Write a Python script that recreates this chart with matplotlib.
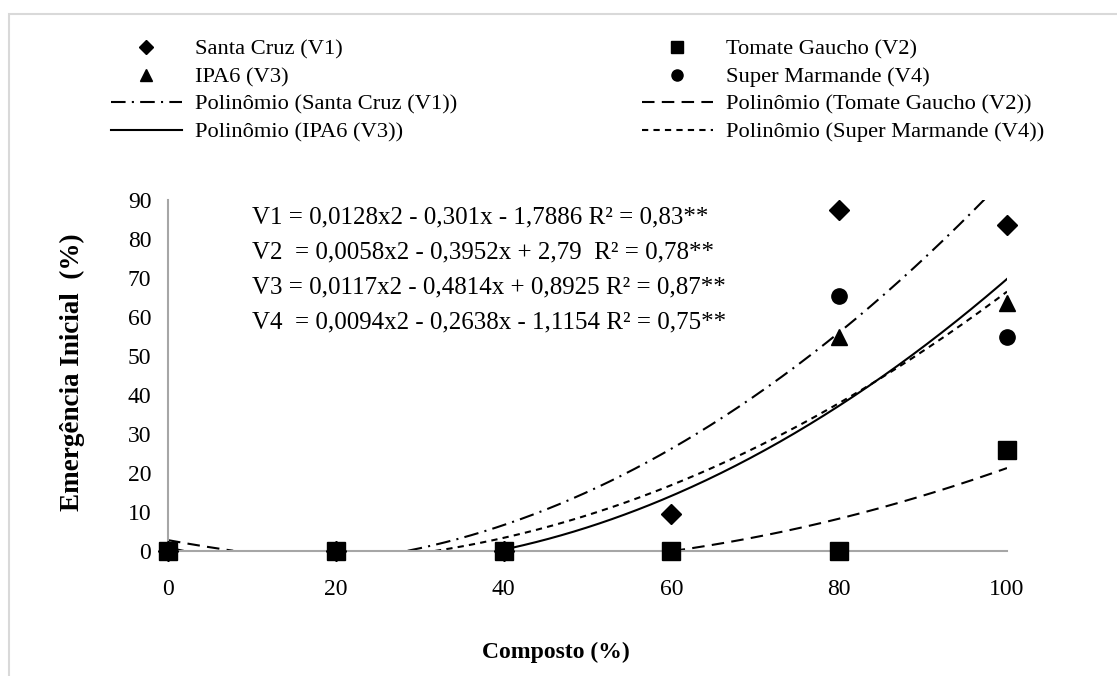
import numpy as np
import matplotlib
matplotlib.use("Agg")
import matplotlib.pyplot as plt
from matplotlib.lines import Line2D
from matplotlib.patches import Rectangle

plt.rcParams['font.family'] = ['Liberation Serif', 'DejaVu Serif']

composto = [0, 20, 40, 60, 80, 100]
v1 = [0, 0, 0, 9.5, 87.5, 83.5]
v2 = [0, 0, 0, 0, 0, 26]
v3 = [0, 0, 0, 0, 55, 63.5]
v4 = [0, 0, 0, 0, 65.5, 55]

names = ["Santa Cruz (V1)", "Tomate Gaucho (V2)", "IPA6 (V3)", "Super Marmande (V4)"]
# trendline coefficients as printed on the chart (a, b, c)
coefs = {
    "V1": [0.0128, -0.301, -1.7886],
    "V2": [0.0058, -0.3952, 2.79],
    "V3": [0.0117, -0.4814, 0.8925],
    "V4": [0.0094, -0.2638, -1.1154],
}
equations = [
    "V1 = 0,0128x2 - 0,301x - 1,7886 R² = 0,83**",
    "V2  = 0,0058x2 - 0,3952x + 2,79  R² = 0,78**",
    "V3 = 0,0117x2 - 0,4814x + 0,8925 R² = 0,87**",
    "V4  = 0,0094x2 - 0,2638x - 1,1154 R² = 0,75**",
]

fig = plt.figure(figsize=(11.17, 6.76), dpi=100)
fig.patches.append(Rectangle((9 / 1117, -0.1), 1.2, 1 - 14 / 676 + 0.1,
                             transform=fig.transFigure, fill=False,
                             edgecolor='#d9d9d9', linewidth=1.5))
ax = fig.add_axes([0.1504, 0.1849, 0.7511, 0.5192])

styles = {
    "V1": dict(linestyle=(0, (7, 3, 1, 3)), color='black', lw=1.5),
    "V2": dict(linestyle=(0, (6, 3.5)), color='black', lw=1.5),
    "V3": dict(linestyle='-', color='black', lw=1.5),
    "V4": dict(linestyle=(0, (3, 2.5)), color='black', lw=1.5),
}
xs = np.linspace(0, 100, 400)
for k, c in coefs.items():
    ys = np.polyval(c, xs)
    ys[ys < 0] = np.nan
    ax.plot(xs, ys, **styles[k], zorder=2)

ax.plot(composto, v1, 'D', color='black', ms=10, ls='none', zorder=3, clip_on=False)
ax.plot(composto, v3, '^', color='black', ms=12, ls='none', zorder=3, clip_on=False)
ax.plot(composto, v4, 'o', color='black', ms=11, ls='none', zorder=3, clip_on=False)
ax.plot(composto, v2, 's', color='black', ms=13, ls='none', zorder=4, clip_on=False)

ax.set_xlim(0, 100)
ax.set_ylim(0, 90)
ax.set_xticks(composto)
ax.set_yticks(range(0, 91, 10))
ax.tick_params(length=0, labelsize=17)
ax.tick_params(axis='x', pad=20)
ax.tick_params(axis='y', pad=12)
for s in ['top', 'right']:
    ax.spines[s].set_visible(False)
for s in ['left', 'bottom']:
    ax.spines[s].set_color('#a6a6a6')
    ax.spines[s].set_linewidth(1.5)

ax.set_xlabel("Composto (%)", fontsize=17, fontweight='bold')
ax.xaxis.set_label_coords((556 - 168) / 839, -(642 - 551) / 351)
ax.set_ylabel("Emergência Inicial  (%)", fontsize=19.5, fontweight='bold')
ax.yaxis.set_label_coords(-(168 - 85) / 839, 0.51)

for i, eq in enumerate(equations):
    ax.text(0.1, 0.95 - i * 0.1, eq, transform=ax.transAxes, fontsize=18,
            va='center', ha='left')

h = [
    Line2D([], [], marker='D', color='black', ls='none', ms=7),
    Line2D([], [], marker='^', color='black', ls='none', ms=8),
    Line2D([], [], **styles["V1"]),
    Line2D([], [], **styles["V3"]),
    Line2D([], [], marker='s', color='black', ls='none', ms=8),
    Line2D([], [], marker='o', color='black', ls='none', ms=8),
    Line2D([], [], **styles["V2"]),
    Line2D([], [], **styles["V4"]),
]
labels = [names[0], names[2], "Polinômio (" + names[0] + ")", "Polinômio (" + names[2] + ")",
          names[1], names[3], "Polinômio (" + names[1] + ")", "Polinômio (" + names[3] + ")"]
fig.legend(h, labels, ncol=2, loc='upper left', bbox_to_anchor=(0.081, 0.972),
           frameon=False, fontsize=16.2, handlelength=3.15, columnspacing=8.2,
           labelspacing=0.3, handletextpad=0.6)

fig.savefig("out.png", dpi=100)
